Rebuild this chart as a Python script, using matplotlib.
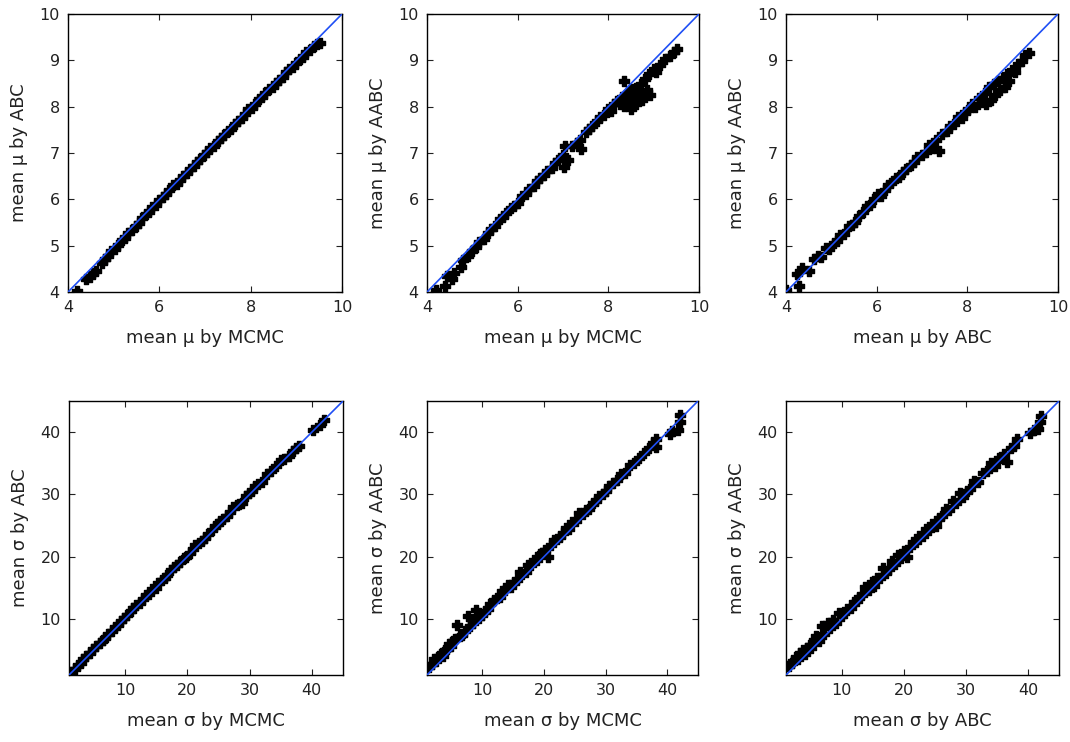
import matplotlib
matplotlib.use("Agg")
import matplotlib.pyplot as plt

# mean mu, ABC vs MCMC
mu_mcmc_a = [4.20, 4.40, 4.48, 4.55, 4.62, 4.75, 4.80, 4.88, 4.95, 5.02, 5.10, 5.18, 5.25, 5.32,
             5.40, 5.48, 5.55, 5.62, 5.70, 5.78, 5.85, 5.92, 6.00, 6.08, 6.15, 6.22, 6.30, 6.38,
             6.45, 6.52, 6.60, 6.68, 6.75, 6.82, 6.90, 6.98, 7.05, 7.12, 7.20, 7.28, 7.35, 7.42,
             7.50, 7.58, 7.65, 7.72, 7.80, 7.88, 7.95, 8.02, 8.10, 8.18, 8.25, 8.32, 8.40, 8.48,
             8.55, 8.62, 8.70, 8.78, 8.85, 8.92, 9.00, 9.08, 9.15, 9.22, 9.30, 9.38, 9.45, 9.52]
mu_abc_a = [4.02, 4.28, 4.32, 4.40, 4.45, 4.62, 4.72, 4.78, 4.88, 4.93, 5.02, 5.12, 5.17, 5.27,
            5.33, 5.43, 5.50, 5.60, 5.68, 5.72, 5.83, 5.88, 5.98, 6.05, 6.12, 6.20, 6.30, 6.33,
            6.42, 6.50, 6.56, 6.66, 6.72, 6.80, 6.86, 6.96, 7.02, 7.10, 7.16, 7.26, 7.33, 7.38,
            7.48, 7.52, 7.62, 7.70, 7.76, 7.85, 7.95, 7.98, 8.06, 8.16, 8.20, 8.30, 8.38, 8.42,
            8.52, 8.58, 8.65, 8.75, 8.82, 8.86, 8.95, 9.02, 9.08, 9.18, 9.22, 9.30, 9.36, 9.38]

# mean mu, AABC vs MCMC
mu_mcmc_b = [4.20, 4.40, 4.45, 4.55, 4.60, 4.75, 4.80, 4.90, 5.00, 5.08, 5.15, 5.25, 5.35, 5.42,
             5.50, 5.60, 5.68, 5.75, 5.85, 5.92, 6.00, 6.10, 6.18, 6.25, 6.35, 6.42, 6.50, 6.58,
             6.65, 6.75, 6.82, 6.90, 7.00, 7.02, 7.05, 7.10, 7.20, 7.30, 7.38, 7.40, 7.50, 7.58,
             7.65, 7.75, 7.82, 7.90, 8.00, 8.05, 8.12, 8.20, 8.25, 8.30, 8.35, 8.35, 8.40, 8.45,
             8.50, 8.50, 8.55, 8.60, 8.62, 8.68, 8.72, 8.75, 8.80, 8.85, 8.90, 8.92, 9.00, 9.05,
             9.15, 9.25, 9.35, 9.45, 9.52]
mu_aabc_b = [4.05, 4.12, 4.35, 4.28, 4.40, 4.55, 4.68, 4.78, 4.88, 4.98, 5.08, 5.15, 5.28, 5.35,
             5.42, 5.58, 5.62, 5.70, 5.82, 5.85, 5.92, 6.08, 6.12, 6.22, 6.28, 6.40, 6.45, 6.52,
             6.62, 6.68, 6.78, 6.85, 6.95, 6.70, 7.15, 6.85, 7.15, 7.22, 7.28, 7.08, 7.45, 7.52,
             7.58, 7.68, 7.78, 7.82, 7.95, 7.90, 8.05, 8.12, 8.05, 8.20, 8.55, 8.02, 8.25, 8.10,
             8.38, 7.95, 8.22, 8.40, 8.05, 8.30, 8.48, 8.15, 8.60, 8.35, 8.70, 8.25, 8.82, 8.75,
             8.90, 9.02, 9.10, 9.18, 9.25]

# mean mu, AABC vs ABC
mu_abc_c = [4.00, 4.25, 4.28, 4.35, 4.50, 4.62, 4.70, 4.78, 4.88, 4.95, 5.05, 5.12, 5.20, 5.28,
            5.38, 5.45, 5.52, 5.62, 5.70, 5.78, 5.85, 5.95, 6.02, 6.10, 6.18, 6.25, 6.32, 6.42,
            6.50, 6.58, 6.65, 6.75, 6.82, 6.90, 7.00, 7.08, 7.15, 7.22, 7.30, 7.38, 7.45, 7.55,
            7.62, 7.70, 7.80, 7.88, 7.95, 8.02, 8.10, 8.18, 8.25, 8.32, 8.38, 8.42, 8.48, 8.52,
            8.58, 8.62, 8.68, 8.72, 8.78, 8.82, 8.88, 8.92, 8.98, 9.05, 9.12, 9.20, 9.28, 9.35]
mu_aabc_c = [4.05, 4.38, 4.12, 4.52, 4.45, 4.72, 4.78, 4.75, 4.95, 4.92, 5.05, 5.10, 5.22, 5.25,
             5.42, 5.45, 5.52, 5.65, 5.72, 5.85, 5.88, 6.00, 6.12, 6.08, 6.20, 6.30, 6.35, 6.45,
             6.48, 6.60, 6.65, 6.75, 6.80, 6.92, 6.95, 7.02, 7.18, 7.10, 7.28, 7.05, 7.40, 7.48,
             7.58, 7.62, 7.78, 7.75, 7.88, 7.92, 8.05, 8.00, 8.18, 8.10, 8.30, 8.05, 8.42, 8.15,
             8.48, 8.25, 8.55, 8.35, 8.62, 8.42, 8.70, 8.55, 8.80, 8.75, 8.92, 8.98, 9.12, 9.15]

# mean sigma, ABC vs MCMC
sd_mcmc_d = [1.4, 1.9, 2.4, 2.9, 3.3, 3.8, 4.4, 4.9, 5.3, 5.9, 6.4, 6.8, 7.3, 7.9, 8.4, 8.8, 9.4,
             9.9, 10.3, 10.9, 11.3, 11.8, 12.4, 12.9, 13.3, 13.8, 14.4, 14.9, 15.3, 15.9, 16.4,
             16.8, 17.4, 17.9, 18.3, 18.9, 19.4, 19.8, 20.4, 20.9, 21.3, 21.9, 22.4, 22.8, 23.4,
             23.9, 24.4, 24.9, 25.3, 25.8, 26.4, 26.9, 27.4, 27.9, 28.3, 28.8, 29.4, 29.9, 30.4,
             30.9, 31.4, 32.0, 32.8, 33.5, 34.3, 35.1, 35.6, 36.3, 36.9, 37.5, 38.0, 40.2, 41.3, 41.9]
sd_abc_d = [1.5, 2.0, 2.6, 3.0, 3.5, 4.0, 4.6, 5.1, 5.6, 6.1, 6.7, 7.0, 7.6, 8.1, 8.7, 9.1, 9.6,
            10.2, 10.6, 11.3, 11.7, 12.2, 12.5, 13.2, 13.8, 14.0, 14.8, 15.0, 15.8, 16.2, 16.6,
            17.1, 17.8, 18.3, 18.6, 19.2, 19.8, 20.0, 20.6, 21.3, 21.8, 22.2, 22.5, 23.0, 23.7,
            24.3, 24.9, 25.3, 25.8, 26.0, 26.6, 27.2, 27.9, 28.3, 28.5, 28.7, 29.7, 30.2, 30.5,
            31.3, 31.6, 32.0, 33.2, 33.8, 34.5, 35.5, 35.7, 36.2, 36.9, 37.4, 37.8, 40.3, 41.1, 42.0]

# mean sigma, AABC vs MCMC
sd_mcmc_e = [1.4, 1.8, 2.1, 2.5, 2.9, 3.2, 3.6, 3.9, 4.3, 4.6, 4.9, 5.3, 5.6, 5.9, 6.3, 6.7, 7.1,
             7.6, 8.0, 8.5, 8.9, 9.4, 9.9, 10.4, 10.9, 11.3, 11.8, 12.3, 12.8, 13.2, 13.7, 14.2,
             14.6, 15.1, 15.6, 16.1, 16.5, 17.0, 17.4, 17.9, 18.3, 18.8, 19.3, 19.7, 20.2, 20.6,
             21.1, 21.6, 22.1, 22.6, 23.1, 23.6, 24.1, 24.6, 25.2, 25.7, 26.3, 26.8, 27.3, 27.9,
             28.4, 28.9, 29.5, 30.1, 30.6, 31.2, 31.8, 32.5, 33.2, 33.9, 34.6, 35.4, 36.2, 37.0,
             37.7, 38.2, 38.2, 40.4, 40.8, 41.7, 42.0, 42.1]
sd_aabc_e = [2.3, 2.8, 3.5, 3.3, 4.0, 4.3, 4.1, 5.0, 5.2, 6.0, 5.6, 6.5, 6.8, 9.1, 7.3, 7.5, 8.0,
             10.4, 8.8, 9.4, 11.5, 10.2, 10.6, 11.3, 11.6, 12.4, 13.0, 13.4, 13.5, 14.5, 14.6,
             15.4, 15.2, 16.0, 16.3, 17.6, 17.2, 17.5, 18.6, 18.7, 19.5, 19.4, 20.5, 20.6, 21.0,
             20.0, 21.8, 22.6, 22.8, 23.2, 23.8, 24.6, 24.5, 25.5, 25.8, 27.0, 26.8, 27.5, 27.7,
             28.6, 29.0, 29.8, 30.1, 30.6, 31.3, 31.9, 32.3, 33.3, 33.5, 34.8, 35.0, 35.9, 36.7,
             37.4, 38.2, 38.9, 37.6, 39.7, 40.2, 40.3, 41.6, 42.7]

# mean sigma, AABC vs ABC
sd_abc_f = [1.5, 1.9, 2.2, 2.6, 3.0, 3.3, 3.7, 4.0, 4.4, 4.8, 5.1, 5.5, 5.9, 6.3, 6.8, 7.2, 7.7,
            8.1, 8.6, 9.0, 9.5, 10.0, 10.4, 10.9, 11.4, 11.9, 12.4, 12.8, 13.3, 13.8, 14.3, 14.8,
            15.2, 15.7, 16.2, 16.7, 17.1, 17.6, 18.1, 18.6, 19.0, 19.5, 20.0, 20.5, 21.0, 21.5,
            22.0, 22.5, 23.0, 23.5, 24.0, 24.6, 25.1, 25.7, 26.2, 26.8, 27.3, 27.9, 28.4, 29.0,
            29.6, 30.2, 30.7, 31.3, 32.0, 32.7, 33.4, 34.0, 34.7, 35.4, 36.1, 36.6, 37.2, 37.8,
            38.2, 40.3, 41.0, 41.6, 42.0, 42.1]
sd_aabc_f = [2.4, 3.0, 3.3, 3.9, 3.6, 4.5, 5.0, 4.4, 5.4, 5.8, 5.3, 6.6, 7.2, 6.4, 8.9, 7.6, 9.3,
             8.6, 9.8, 9.4, 11.0, 10.5, 10.9, 11.6, 11.8, 12.8, 12.9, 13.6, 13.8, 15.2, 14.6, 16.0,
             15.3, 16.5, 16.6, 18.2, 17.4, 18.0, 19.3, 18.9, 20.3, 19.8, 20.9, 20.0, 21.6, 22.3,
             22.4, 23.3, 23.3, 24.4, 24.3, 25.2, 25.0, 26.2, 26.5, 27.7, 27.5, 28.9, 28.6, 30.3,
             29.6, 30.6, 30.8, 32.2, 32.0, 33.4, 33.8, 35.0, 34.6, 35.9, 36.5, 35.2, 37.4, 37.8,
             38.9, 39.8, 40.4, 40.5, 41.7, 42.6]

mu_lim = (4, 10)
mu_ticks = [4, 6, 8, 10]
mu_yticks = [4, 5, 6, 7, 8, 9, 10]
sd_lim = (1, 45)
sd_ticks = [10, 20, 30, 40]

panels = [
    (mu_mcmc_a, mu_abc_a, "mean \u03bc by MCMC", "mean \u03bc by ABC", "mu"),
    (mu_mcmc_b, mu_aabc_b, "mean \u03bc by MCMC", "mean \u03bc by AABC", "mu"),
    (mu_abc_c, mu_aabc_c, "mean \u03bc by ABC", "mean \u03bc by AABC", "mu"),
    (sd_mcmc_d, sd_abc_d, "mean \u03c3 by MCMC", "mean \u03c3 by ABC", "sd"),
    (sd_mcmc_e, sd_aabc_e, "mean \u03c3 by MCMC", "mean \u03c3 by AABC", "sd"),
    (sd_abc_f, sd_aabc_f, "mean \u03c3 by ABC", "mean \u03c3 by AABC", "sd"),
]

W, H = 1070, 742
# axes boxes in pixels: left, top, right, bottom
boxes = [
    (68, 14, 342, 292), (427, 14, 699, 292), (786, 14, 1058, 292),
    (69, 401, 343, 675), (427, 401, 698, 675), (786, 401, 1059, 675),
]

fig = plt.figure(figsize=(W / 100, H / 100), dpi=100)

for (x, y, xl, yl, kind), (l, t, r, b) in zip(panels, boxes):
    ax = fig.add_axes([l / W, (H - b) / H, (r - l) / W, (b - t) / H])
    # bold plus markers, drawn twice (cross + diamond) to mimic the thick blobs
    ax.scatter(x, y, marker="P", s=42, color="black", edgecolors="black",
               linewidths=1.0, zorder=2)
    ax.scatter(x, y, marker="D", s=14, color="black", linewidths=0, zorder=2)
    lim = mu_lim if kind == "mu" else sd_lim
    ax.plot(lim, lim, color="#1f4ff5", linewidth=1.2, zorder=3)
    ax.set_xlim(lim)
    ax.set_ylim(lim)
    if kind == "mu":
        ax.set_xticks(mu_ticks)
        ax.set_yticks(mu_yticks)
    else:
        ax.set_xticks(sd_ticks)
        ax.set_yticks(sd_ticks)
    ax.tick_params(direction="in", top=True, right=True, length=4, width=0.8,
                   labelsize=11.5, pad=6, colors="#222222")
    for s in ax.spines.values():
        s.set_linewidth(1.0)
    ax.set_xlabel(xl, fontsize=13, labelpad=10, color="#222222")
    ax.set_ylabel(yl, fontsize=13, labelpad=8, color="#222222")

fig.savefig("out.png", dpi=100)
